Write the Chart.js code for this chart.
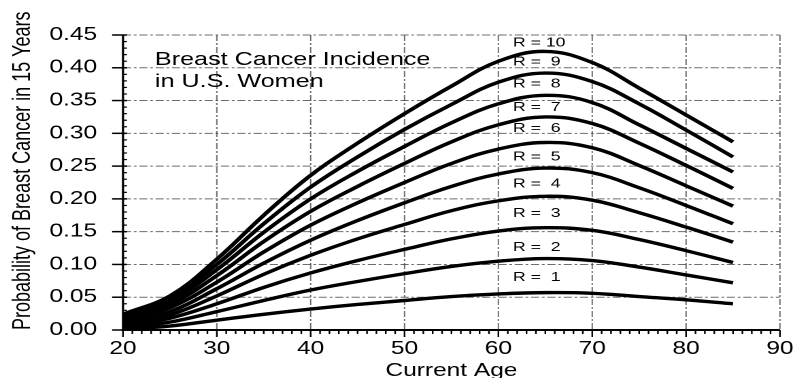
<!DOCTYPE html>
<html>
<head>
<meta charset="utf-8">
<script src="https://cdn.jsdelivr.net/npm/chart.js@4/dist/chart.umd.min.js"></script>
<style>
  html, body { margin: 0; padding: 0; background: #fff; overflow: hidden; }
  #wrap { position: absolute; left: 0; top: 0; width: 583px; height: 378px;
          transform: scaleX(1.3602); transform-origin: 0 0; }
</style>
</head>
<body>
<div id="wrap"><canvas id="c" width="583" height="378"></canvas></div>
<script>
// ---- data ----
const ages = [20, 25, 30, 35, 40, 45, 50, 55, 60, 65, 70, 75, 80, 85];
const r1  = [0.001, 0.006, 0.015, 0.024, 0.032, 0.039, 0.045, 0.051, 0.055, 0.057, 0.056, 0.051, 0.046, 0.040];
const r2  = [0.003, 0.012, 0.028, 0.045, 0.061, 0.074, 0.086, 0.097, 0.105, 0.109, 0.106, 0.096, 0.084, 0.072];
const r3  = [0.005, 0.018, 0.040, 0.065, 0.087, 0.106, 0.123, 0.139, 0.151, 0.156, 0.152, 0.138, 0.121, 0.103];
const r4  = [0.008, 0.023, 0.052, 0.085, 0.114, 0.139, 0.161, 0.182, 0.197, 0.204, 0.198, 0.179, 0.157, 0.134];
const r5  = [0.010, 0.028, 0.063, 0.102, 0.137, 0.167, 0.194, 0.219, 0.238, 0.247, 0.240, 0.217, 0.190, 0.162];
const r6  = [0.013, 0.034, 0.073, 0.119, 0.160, 0.194, 0.225, 0.254, 0.276, 0.286, 0.278, 0.251, 0.220, 0.189];
const r7  = [0.016, 0.039, 0.083, 0.135, 0.181, 0.219, 0.254, 0.287, 0.313, 0.325, 0.315, 0.285, 0.251, 0.216];
const r8  = [0.019, 0.044, 0.092, 0.149, 0.200, 0.242, 0.280, 0.316, 0.345, 0.358, 0.347, 0.313, 0.277, 0.241];
const r9  = [0.021, 0.048, 0.100, 0.162, 0.218, 0.264, 0.306, 0.344, 0.378, 0.392, 0.379, 0.345, 0.305, 0.264];
const r10 = [0.024, 0.052, 0.108, 0.175, 0.236, 0.285, 0.330, 0.372, 0.410, 0.425, 0.408, 0.369, 0.328, 0.287];
const seriesLabels = ['R = 1', 'R = 2', 'R = 3', 'R = 4', 'R = 5', 'R = 6', 'R = 7', 'R = 8', 'R = 9', 'R = 10'];
const xTickValues = [20, 30, 40, 50, 60, 70, 80, 90];
const yTickValues = [0, 0.05, 0.10, 0.15, 0.20, 0.25, 0.30, 0.35, 0.40, 0.45];
const noteLines = ['Breast Cancer Incidence', 'in U.S. Women'];
const xTitle = 'Current Age';
const yTitle = 'Probability of Breast Cancer in 15 Years';

// ---- placement of annotations (data coordinates) ----
const labelAge = 61.55;
const labelLevels = [0.0804, 0.1261, 0.178, 0.2227, 0.2643, 0.3077, 0.3397, 0.3752, 0.4092, 0.4382];
const noteAge = 23.4;
const noteLevels = [0.4042, 0.3707];

const FONT = "'Liberation Sans', Arial, Helvetica, sans-serif";
const allSeries = [r1, r2, r3, r4, r5, r6, r7, r8, r9, r10];

const decor = {
  id: 'decor',
  beforeDatasetsDraw(chart) {
    const { ctx, chartArea: a, scales: { x, y } } = chart;
    ctx.save();
    ctx.strokeStyle = 'rgba(60,60,60,0.75)';
    ctx.lineWidth = 1;
    ctx.setLineDash([6, 2, 2, 2]);
    x.ticks.forEach(t => {
      if (t.value <= x.min) return;
      const px = x.getPixelForValue(t.value);
      ctx.beginPath(); ctx.moveTo(px, a.top); ctx.lineTo(px, a.bottom); ctx.stroke();
    });
    y.ticks.forEach(t => {
      if (t.value <= y.min) return;
      const py = y.getPixelForValue(t.value);
      ctx.beginPath(); ctx.moveTo(a.left, py); ctx.lineTo(a.right, py); ctx.stroke();
    });
    ctx.restore();
  },
  afterDatasetsDraw(chart) {
    const { ctx, chartArea: a, scales: { x, y } } = chart;
    ctx.save();
    ctx.setLineDash([]);
    ctx.strokeStyle = '#000';
    // axes
    ctx.lineWidth = 1.6;
    ctx.beginPath(); ctx.moveTo(a.left, a.top); ctx.lineTo(a.left, a.bottom + 1); ctx.stroke();
    ctx.lineWidth = 2;
    ctx.beginPath(); ctx.moveTo(a.left - 1, a.bottom); ctx.lineTo(a.right, a.bottom); ctx.stroke();
    // x ticks: minor every year, major at labelled values
    ctx.lineWidth = 1.2;
    for (let v = x.min; v <= x.max; v++) {
      const px = x.getPixelForValue(v);
      const major = xTickValues.includes(v);
      ctx.beginPath(); ctx.moveTo(px, a.bottom); ctx.lineTo(px, a.bottom + (major ? 7 : 4)); ctx.stroke();
    }
    // y ticks: minor every 0.01 inside, major outside
    for (let i = 0; i <= 45; i++) {
      const v = i / 100;
      const py = y.getPixelForValue(v);
      const major = i % 5 === 0;
      ctx.lineWidth = major ? 1.5 : 1.2;
      ctx.beginPath();
      if (major) { ctx.moveTo(a.left - 8, py); ctx.lineTo(a.left + 3, py); }
      else { ctx.moveTo(a.left, py); ctx.lineTo(a.left + 3, py); }
      ctx.stroke();
    }
    // annotation text
    ctx.fillStyle = '#000';
    ctx.textAlign = 'left';
    ctx.textBaseline = 'alphabetic';
    ctx.font = '18.5px ' + FONT;
    noteLines.forEach((s, i) => ctx.fillText(s, x.getPixelForValue(noteAge), y.getPixelForValue(noteLevels[i])));
    ctx.font = '13px ' + FONT;
    ctx.textBaseline = 'middle';
    seriesLabels.forEach((s, i) => {
      const txt = s.length < 6 ? s.replace('= ', '=  ') : s;
      ctx.fillText(txt, x.getPixelForValue(labelAge), y.getPixelForValue(labelLevels[i]));
    });
    ctx.restore();
  }
};

new Chart(document.getElementById('c'), {
  type: 'line',
  data: {
    datasets: allSeries.map((vals, i) => ({
      label: seriesLabels[i],
      data: ages.map((a, j) => ({ x: a, y: vals[j] })),
      borderColor: '#000',
      borderWidth: 3.4,
      pointRadius: 0,
      fill: false,
      tension: 0.4
    }))
  },
  options: {
    responsive: false,
    animation: false,
    devicePixelRatio: 2,
    layout: { padding: { left: 0, right: 9.6, top: 35, bottom: 0 } },
    plugins: { legend: { display: false }, tooltip: { enabled: false } },
    scales: {
      x: {
        type: 'linear', min: 20, max: 90,
        afterBuildTicks: s => { s.ticks = xTickValues.map(v => ({ value: v })); },
        afterFit: s => { s.height = 48; s.paddingLeft = 0; s.paddingRight = 0; },
        grid: { display: false },
        border: { display: false },
        ticks: { color: '#000', padding: 0, maxRotation: 0, autoSkip: false,
                 font: { family: FONT, size: 18 }, callback: v => String(v) },
        title: { display: true, text: xTitle, color: '#000',
                 font: { family: FONT, size: 18, lineHeight: 0.8 }, padding: { top: 0, bottom: 0 } }
      },
      y: {
        type: 'linear', min: 0, max: 0.45,
        afterBuildTicks: s => { s.ticks = yTickValues.map(v => ({ value: v })); },
        afterFit: s => { s.width = 90.4; s.paddingTop = 0; s.paddingBottom = 0; },
        grid: { display: false },
        border: { display: false },
        ticks: { color: '#000', padding: 11, autoSkip: false,
                 font: { family: FONT, size: 18 }, callback: v => Number(v).toFixed(2) },
        title: { display: true, text: yTitle, color: '#000', align: 'start',
                 font: { family: FONT, size: 18 }, padding: { top: 6, bottom: 0 } }
      }
    }
  },
  plugins: [decor]
});
</script>
</body>
</html>
